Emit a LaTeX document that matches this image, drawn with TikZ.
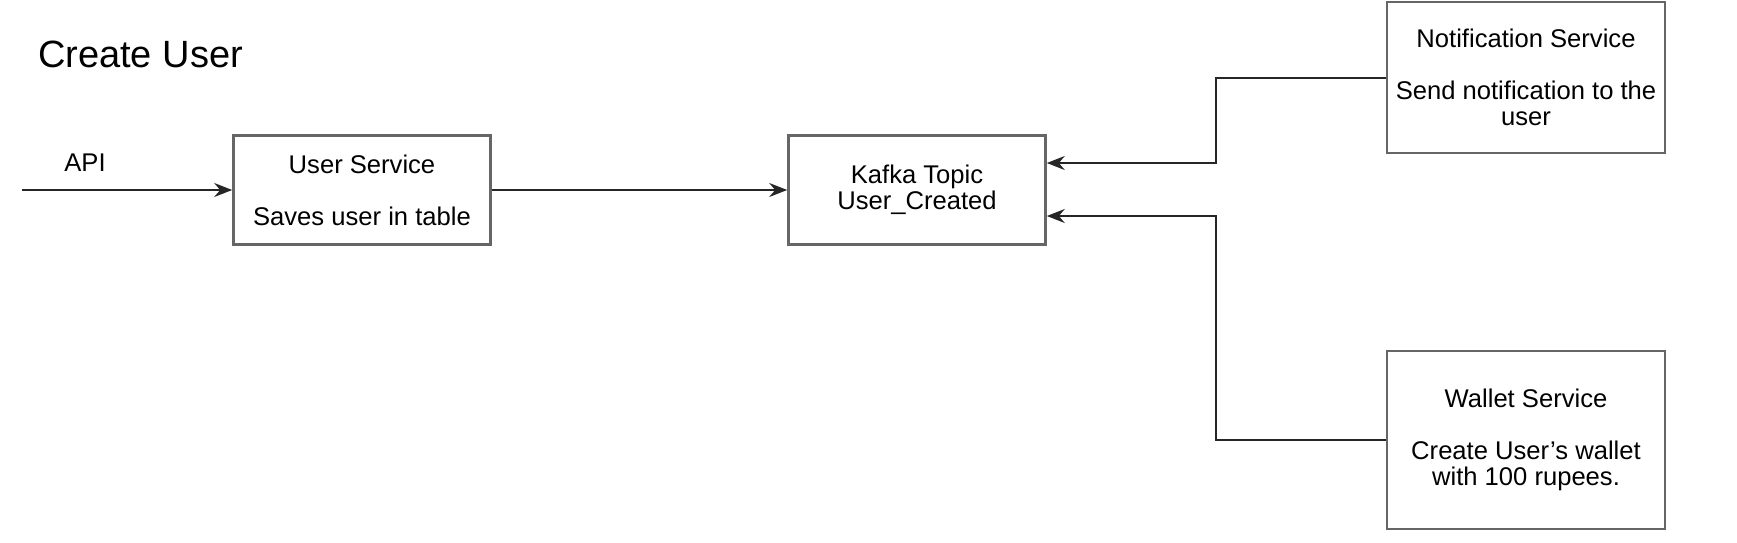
\documentclass[tikz,border=0pt]{standalone}
\usepackage{fontspec}
\setmainfont{Liberation Sans}
\usetikzlibrary{arrows.meta}

\begin{document}
\begin{tikzpicture}[x=0.5pt,y=-0.5pt,font=\fontsize{12.8}{13}\selectfont, >={Stealth[length=9pt,width=7pt,inset=3pt]}]
    \tikzstyle{service node}=[rectangle,draw=black!60,line width=1.3pt,align=center,inner sep=0,minimum width=139pt]
    \tikzstyle{topic node}=[service node,minimum width=128.5pt,minimum height=54.5pt]
    \tikzstyle{link}=[draw=black!85,line width=1pt]

    \useasboundingbox (0,0) rectangle (1737,542);

    \node(title)[anchor=base west,font=\fontsize{19}{22}\selectfont] at (31,67) {Create User};

    \node(user)[topic node] at (362,190) {User Service\\[13pt]Saves user in table};
    \node(kafka)[topic node] at (917,190) {Kafka Topic\\User\_Created};
    \node(notif)[service node,minimum height=75.5pt] at (1526,77.5) {Notification Service\\[13pt]Send notification to the\\user};
    \node(wallet)[service node,minimum height=89pt] at (1526,440) {Wallet Service\\[13pt]Create User's wallet\\with 100 rupees.};

    \coordinate(api) at (22,190);
    \node(apilabel) at (85,163) {API};

    \draw[link,->] (api) -- (user.west);
    \draw[link,->] (user.east) -- (kafka.west);
    \draw[link,->] (notif.west) -- ++(-169.5,0) |- ([yshift=13.5pt]kafka.east);
    \draw[link,->] (wallet.west) -- ++(-169.5,0) |- ([yshift=-13pt]kafka.east);
\end{tikzpicture}
\end{document}
